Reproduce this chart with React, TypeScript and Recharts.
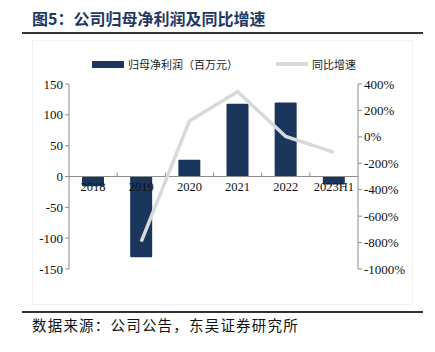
import { ComposedChart, Bar, Line, XAxis, YAxis, Legend, ReferenceLine } from "recharts";

// 数据
const years = ["2018", "2019", "2020", "2021", "2022", "2023H1"];
const netProfit = [-16, -131, 27, 118, 120, -13]; // 归母净利润（百万元）
const yoyGrowth = [null, -793, 120, 342, 3, -117]; // 同比增速 %
const leftTicks = [-150, -100, -50, 0, 50, 100, 150];
const rightTicks = [-1000, -800, -600, -400, -200, 0, 200, 400];

const W = 435;
const H = 352;
const PLOT_TOP = 84;
const PLOT_BOTTOM = 269;
const PLOT_LEFT = 69;
const PLOT_RIGHT = 358;
const X_AXIS_H = 30;

const LEFT_MIN = leftTicks[0];
const LEFT_MAX = leftTicks[leftTicks.length - 1];
const ZERO_Y = PLOT_TOP + ((PLOT_BOTTOM - PLOT_TOP) * LEFT_MAX) / (LEFT_MAX - LEFT_MIN);
const BAND = (PLOT_RIGHT - PLOT_LEFT) / years.length;

const SERIF = '"Liberation Serif", "Times New Roman", serif';
const CJK = '"Noto Sans CJK SC", "Noto Sans", sans-serif';
const NAVY = "#1B365D";
const GREY_LINE = "#D9D9D9";
const AXIS = "#8C8C8C";

const data = years.map((y, i) => ({ year: y, profit: netProfit[i], yoy: yoyGrowth[i] }));

// x轴标签画在 0 线下方
function CategoryTick(props: any) {
    const { x, payload, index } = props;
    return (
        <g>
            {index > 0 && (
                <line x1={x - BAND / 2} x2={x - BAND / 2} y1={ZERO_Y} y2={ZERO_Y - 4} stroke={AXIS} />
            )}
            <text x={x} y={ZERO_Y + 14} textAnchor="middle" fontSize={12.5} fontFamily={SERIF} fill="#111">
                {payload.value}
            </text>
        </g>
    );
}

function renderLegend(props: any) {
    // 柱在前，线在后
    const items = [...(props.payload || [])].sort((a: any, b: any) =>
        (a.type === "line" ? 1 : 0) - (b.type === "line" ? 1 : 0)
    );
    return (
        <div style={{ display: "flex", alignItems: "center", paddingLeft: 92, fontFamily: CJK, fontSize: 11, color: "#222" }}>
            {items.map((it: any, i: number) => (
                <div key={i} style={{ display: "flex", alignItems: "center", marginRight: 38 }}>
                    {it.type === "line" ? (
                        <span style={{ display: "inline-block", width: 32, height: 4, background: GREY_LINE, marginRight: 4 }} />
                    ) : (
                        <span style={{ display: "inline-block", width: 32, height: 7, background: NAVY, marginRight: 4 }} />
                    )}
                    <span>{it.value}</span>
                </div>
            ))}
        </div>
    );
}

export default function App() {
    return (
        <div style={{ position: "relative", width: W, height: H, margin: -8, background: "#fff", overflow: "hidden" }}>
            <div style={{ position: "absolute", left: 0, top: 32, width: 3, height: 1.5, background: "#333" }} />
            <div
                style={{
                    position: "absolute",
                    left: 32,
                    top: 7,
                    fontFamily: CJK,
                    fontWeight: 700,
                    fontSize: 16,
                    color: "#1F3864",
                    lineHeight: "22px",
                    whiteSpace: "nowrap",
                }}
            >
                图5：公司归母净利润及同比增速
            </div>
            <div style={{ position: "absolute", left: 22, top: 32, width: 401, height: 1.5, background: "#333" }} />
            <div style={{ position: "absolute", left: 32, top: 40, width: 381, height: 265, border: "1px solid #F2F2F2", boxSizing: "border-box" }} />

            <div style={{ position: "absolute", left: 0, top: 0 }}>
                <ComposedChart
                    width={W}
                    height={H}
                    data={data}
                    margin={{ top: PLOT_TOP, right: 0, bottom: H - PLOT_BOTTOM - X_AXIS_H, left: 0 }}
                >
                    <XAxis
                        dataKey="year"
                        height={X_AXIS_H}
                        axisLine={false}
                        tickLine={false}
                        interval={0}
                        tick={(p: any) => <CategoryTick {...p} />}
                    />
                    <YAxis
                        yAxisId="left"
                        width={PLOT_LEFT}
                        domain={[LEFT_MIN, LEFT_MAX]}
                        ticks={leftTicks}
                        interval={0}
                        axisLine={{ stroke: AXIS }}
                        tickLine={{ stroke: AXIS }}
                        tickSize={4}
                        tick={{ fontSize: 13, fontFamily: SERIF, fill: "#111" }}
                    />
                    <YAxis
                        yAxisId="right"
                        orientation="right"
                        width={W - PLOT_RIGHT}
                        domain={[rightTicks[0], rightTicks[rightTicks.length - 1]]}
                        ticks={rightTicks}
                        interval={0}
                        axisLine={{ stroke: AXIS }}
                        tickLine={{ stroke: AXIS }}
                        tickSize={4}
                        tickFormatter={(v: number) => `${v}%`}
                        tick={{ fontSize: 13, fontFamily: SERIF, fill: "#111" }}
                    />
                    <Legend
                        verticalAlign="middle"
                        align="center"
                        wrapperStyle={{ top: 56, left: 0, width: W }}
                        content={renderLegend}
                    />
                    <Bar
                        yAxisId="left"
                        dataKey="profit"
                        name="归母净利润（百万元）"
                        fill={NAVY}
                        barSize={22}
                        radius={1}
                        isAnimationActive={false}
                    />
                    <ReferenceLine yAxisId="left" y={0} stroke={AXIS} />
                    <Line
                        yAxisId="right"
                        dataKey="yoy"
                        name="同比增速"
                        type="linear"
                        stroke={GREY_LINE}
                        strokeWidth={3.5}
                        dot={false}
                        legendType="line"
                        isAnimationActive={false}
                    />
                </ComposedChart>
            </div>

            <div style={{ position: "absolute", left: 0, top: 311, width: 3, height: 1.5, background: "#333" }} />
            <div style={{ position: "absolute", left: 22, top: 311, width: 401, height: 1.5, background: "#333" }} />
            <div
                style={{
                    position: "absolute",
                    left: 32,
                    top: 315,
                    fontFamily: CJK,
                    fontSize: 14.5,
                    letterSpacing: 1.2,
                    color: "#111",
                    lineHeight: "20px",
                    whiteSpace: "nowrap",
                }}
            >
                数据来源：公司公告，东吴证券研究所
            </div>
        </div>
    );
}
